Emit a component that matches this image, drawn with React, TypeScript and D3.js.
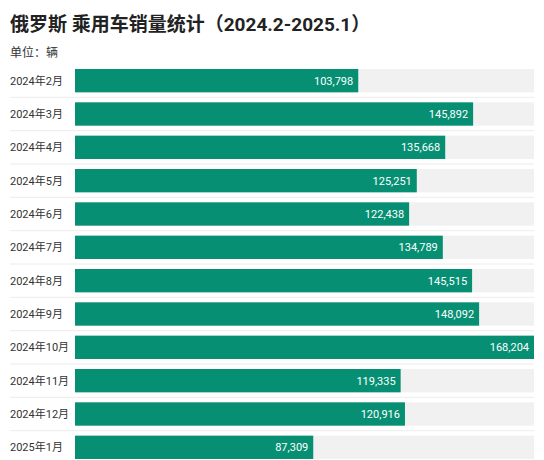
import { useEffect, useRef } from "react";
import * as d3 from "d3";

const MONTHS = [
  "2024年2月", "2024年3月", "2024年4月", "2024年5月", "2024年6月", "2024年7月",
  "2024年8月", "2024年9月", "2024年10月", "2024年11月", "2024年12月", "2025年1月",
];
const SALES = [
  103798, 145892, 135668, 125251, 122438, 134789,
  145515, 148092, 168204, 119335, 120916, 87309,
];

const TITLE = "俄罗斯 乘用车销量统计（2024.2-2025.1）";
const UNIT = "单位：辆";

const FONT = "Roboto, 'Noto Sans CJK SC', sans-serif";
const BAR_COLOR = "#078f73";
const TRACK_COLOR = "#f1f1f1";

export default function App() {
  const svgRef = useRef<SVGSVGElement>(null);

  useEffect(() => {
    if (!svgRef.current) return;
    document.body.style.margin = "0";

    const width = 544;
    const height = 460;
    const left = 75;
    const right = 534;

    const svg = d3.select(svgRef.current);
    svg.selectAll("*").remove();

    svg.append("rect").attr("width", width).attr("height", height).attr("fill", "#fff");

    const x = d3.scaleLinear().domain([0, d3.max(SALES) as number]).range([left, right]);
    const y = d3.scaleBand<string>()
      .domain(MONTHS)
      .range([64, 464])
      .paddingInner(0.3)
      .paddingOuter(0.15);

    // title
    svg.append("text")
      .attr("x", 10)
      .attr("y", 31)
      .attr("fill", "#222")
      .attr("font-size", "19px")
      .attr("font-weight", "bold")
      .attr("font-family", FONT)
      .text(TITLE);

    svg.append("text")
      .attr("x", 10)
      .attr("y", 57)
      .attr("fill", "#333")
      .attr("font-size", "12px")
      .attr("font-family", FONT)
      .text(UNIT);

    // row separators
    const step = y.step();
    svg.append("g")
      .selectAll("line")
      .data(MONTHS.slice(1))
      .join("line")
      .attr("x1", 10)
      .attr("x2", right)
      .attr("y1", (d) => (y(d) as number) - step * 0.15)
      .attr("y2", (d) => (y(d) as number) - step * 0.15)
      .attr("stroke", "#ececec")
      .attr("stroke-width", 1);

    // tracks
    svg.append("g")
      .selectAll("rect")
      .data(MONTHS)
      .join("rect")
      .attr("x", left)
      .attr("y", (d) => y(d) as number)
      .attr("width", right - left)
      .attr("height", y.bandwidth())
      .attr("fill", TRACK_COLOR);

    // bars
    svg.append("g")
      .selectAll("rect")
      .data(SALES)
      .join("rect")
      .attr("x", left)
      .attr("y", (_, i) => y(MONTHS[i]) as number)
      .attr("width", (d) => x(d) - left)
      .attr("height", y.bandwidth())
      .attr("fill", BAR_COLOR);

    // category labels
    svg.append("g")
      .selectAll("text")
      .data(MONTHS)
      .join("text")
      .attr("x", 10)
      .attr("y", (d) => (y(d) as number) + y.bandwidth() / 2)
      .attr("dy", "0.35em")
      .attr("fill", "#333")
      .attr("font-size", "11px")
      .attr("font-family", FONT)
      .text((d) => d);

    // value labels
    const fmt = d3.format(",");
    svg.append("g")
      .selectAll("text")
      .data(SALES)
      .join("text")
      .attr("x", (d) => x(d) - 5)
      .attr("y", (_, i) => (y(MONTHS[i]) as number) + y.bandwidth() / 2)
      .attr("dy", "0.35em")
      .attr("text-anchor", "end")
      .attr("fill", "#fff")
      .attr("font-size", "11px")
      .attr("font-family", FONT)
      .text((d) => fmt(d));
  }, []);

  return (
    <svg
      ref={svgRef}
      width={544}
      height={460}
      style={{ position: "absolute", left: 0, top: 0, display: "block" }}
    />
  );
}
